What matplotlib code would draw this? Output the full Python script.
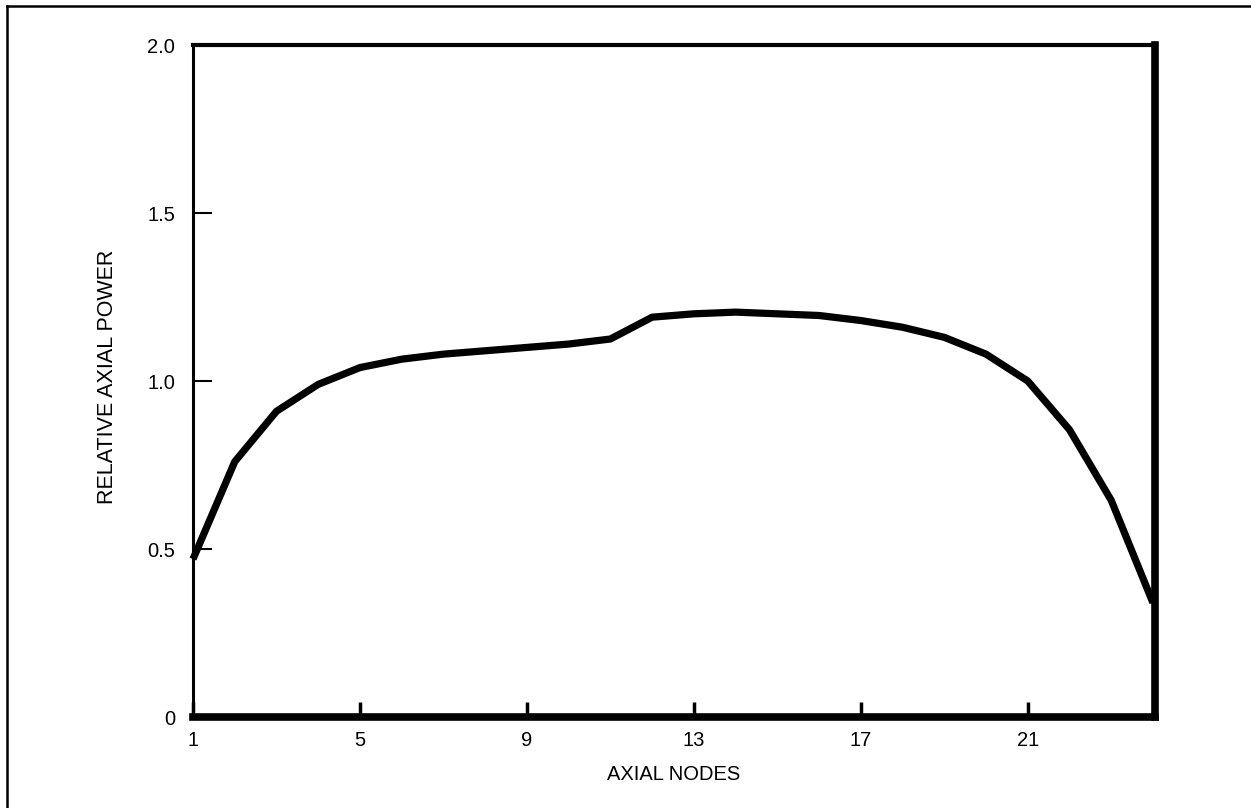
import matplotlib.pyplot as plt
from matplotlib.lines import Line2D

plt.rcParams['font.family'] = ['Liberation Sans', 'DejaVu Sans']

# relative axial power per node
nodes = list(range(1, 25))
power = [0.47, 0.76, 0.91, 0.99, 1.04, 1.065, 1.08, 1.09, 1.10, 1.11, 1.125, 1.19,
         1.20, 1.205, 1.20, 1.195, 1.18, 1.16, 1.13, 1.08, 1.00, 0.855, 0.645, 0.34]

xticks = [1, 5, 9, 13, 17, 21]
yticks = [0, 0.5, 1.0, 1.5, 2.0]
ylabels = ['0', '0.5', '1.0', '1.5', '2.0']

fig = plt.figure(figsize=(12.51, 8.08), dpi=100)
ax = fig.add_axes([0.1543, 0.1126, 0.769, 0.8317])

ax.plot(nodes, power, color='black', linewidth=5.2, solid_joinstyle='round',
        solid_capstyle='butt', clip_on=False, zorder=3)

ax.set_xlim(1, 24.05)
ax.set_ylim(0, 2.0)
ax.set_xticks(xticks)
ax.set_yticks(yticks)
ax.set_yticklabels(ylabels)
ax.tick_params(axis='both', direction='in', colors='black', labelsize=14.5)
ax.tick_params(axis='y', length=14, width=1.5, pad=13)
ax.tick_params(axis='x', length=11, width=2.5, pad=10)

ax.spines['left'].set_linewidth(2.2)
ax.spines['top'].set_linewidth(3)
ax.spines['right'].set_linewidth(5.5)
ax.spines['bottom'].set_linewidth(5.5)

ax.set_xlabel('AXIAL NODES', fontsize=14.5)
ax.set_ylabel('RELATIVE AXIAL POWER', fontsize=15.5)
ax.yaxis.set_label_coords(-0.078, 0.506)
ax.xaxis.set_label_coords(0.5, -0.072)

# outer frame (left and top edges)
fig.add_artist(Line2D([0.0056, 0.0056], [0.0, 0.9925], transform=fig.transFigure,
                      color='black', linewidth=1.8))
fig.add_artist(Line2D([0.0056, 1.0], [0.9925, 0.9925], transform=fig.transFigure,
                      color='black', linewidth=1.8))

plt.savefig('out.png', dpi=100)
